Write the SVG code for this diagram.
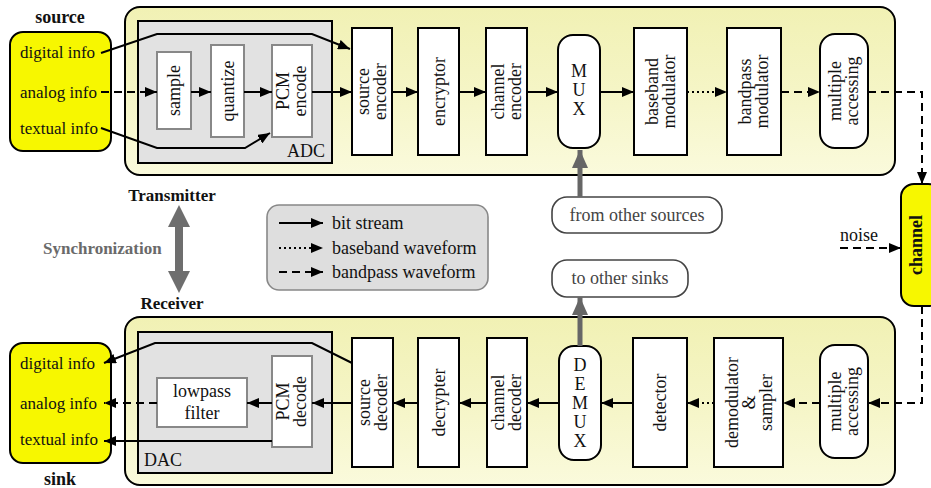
<svg xmlns="http://www.w3.org/2000/svg" width="931" height="488" viewBox="0 0 931 488">
<defs>
<linearGradient id="pan" x1="0" y1="0" x2="0" y2="1">
<stop offset="0" stop-color="#f1f1b4"/>
<stop offset="0.5" stop-color="#f5f5c6"/>
<stop offset="1" stop-color="#fafadc"/>
</linearGradient>
<marker id="ah" viewBox="0 0 12 10" refX="12" refY="5" markerWidth="12" markerHeight="10" markerUnits="userSpaceOnUse" orient="auto">
<path d="M0,0 L12,5 L0,10 z" fill="#000"/>
</marker>
<marker id="gh" viewBox="0 0 18 16" refX="18" refY="8" markerWidth="18" markerHeight="16" markerUnits="userSpaceOnUse" orient="auto">
<path d="M0,0 L18,8 L0,16 z" fill="#666"/>
</marker>
</defs>
<style>
text{font-family:'Liberation Serif','DejaVu Serif',serif}
.t{font-size:18px;fill:#111}
.i{font-size:17px;fill:#111}
.bd{font-size:17px;font-weight:bold;fill:#111}
.g{fill:#444}
.blk{fill:#fff;stroke:#000;stroke-width:2}
.inr{fill:#fff;stroke:#888;stroke-width:2}
.pan{fill:url(#pan);stroke:#000;stroke-width:2}
.ylw{fill:#f7f700;stroke:#000;stroke-width:2}
.gbx{fill:#e2e2e2;stroke:#000;stroke-width:2}
.pill{fill:#fff;stroke:#444;stroke-width:1.6}
.s{fill:none;stroke:#000;stroke-width:2;marker-end:url(#ah)}
.d{fill:none;stroke:#000;stroke-width:2;stroke-dasharray:8 5;marker-end:url(#ah)}
.o{fill:none;stroke:#000;stroke-width:2;stroke-dasharray:2 3;marker-end:url(#ah)}
.gl{fill:none;stroke:#666;stroke-width:5;marker-end:url(#gh)}
</style>
<rect width="931" height="488" fill="#fff"/>
<g font-family="Liberation Serif, DejaVu Serif, serif">
<g id="tx-panel"><rect class="pan" x="125" y="7" width="770" height="168" rx="15"/></g>
<g id="rx-panel"><rect class="pan" x="125" y="317" width="770" height="168" rx="15"/></g>

<g id="adc"><rect class="gbx" x="138" y="21" width="194" height="142"/><text class="t" x="287" y="157">ADC</text></g>
<g id="dac"><rect class="gbx" x="138" y="332" width="194" height="141"/><text class="t" x="144" y="466">DAC</text></g>

<g id="source">
<rect class="ylw" x="10" y="32" width="101" height="119" rx="13"/>
<text class="bd" x="60" y="23" text-anchor="middle" style="font-size:18px">source</text>
<text class="i" x="20" y="58">digital info</text>
<text class="i" x="20" y="98">analog info</text>
<text class="i" x="20" y="134">textual info</text>
</g>
<g id="sink">
<rect class="ylw" x="10" y="343" width="101" height="120" rx="13"/>
<text class="bd" x="60" y="485" text-anchor="middle" style="font-size:18px">sink</text>
<text class="i" x="20" y="369">digital info</text>
<text class="i" x="20" y="409">analog info</text>
<text class="i" x="20" y="445">textual info</text>
</g>

<g id="sample"><rect class="inr" x="157" y="52" width="34" height="77"/><text class="t" transform="translate(174,90.5) rotate(-90)" text-anchor="middle" y="6">sample</text></g>
<g id="quantize"><rect class="inr" x="211" y="45" width="33" height="92"/><text class="t" transform="translate(227.5,91) rotate(-90)" text-anchor="middle" y="6">quantize</text></g>
<g id="pcm-encode"><rect class="inr" x="272" y="45" width="40" height="92"/><text class="t" transform="translate(292,91) rotate(-90)" text-anchor="middle"><tspan x="0" y="-3">PCM</tspan><tspan x="0" y="14">encode</tspan></text></g>

<g id="source-encoder"><rect class="blk" x="352" y="28" width="40" height="127"/><text class="t" transform="translate(372,91.5) rotate(-90)" text-anchor="middle"><tspan x="0" y="-3">source</tspan><tspan x="0" y="14">encoder</tspan></text></g>
<g id="encryptor"><rect class="blk" x="418" y="28" width="41" height="127"/><text class="t" transform="translate(438.5,91.5) rotate(-90)" text-anchor="middle" y="6">encryptor</text></g>
<g id="channel-encoder"><rect class="blk" x="486" y="28" width="41" height="127"/><text class="t" transform="translate(506.5,91.5) rotate(-90)" text-anchor="middle"><tspan x="0" y="-3">channel</tspan><tspan x="0" y="14">encoder</tspan></text></g>
<g id="mux"><rect class="blk" x="558" y="35" width="42" height="113" rx="15"/><text class="t" x="579" text-anchor="middle"><tspan x="579" y="77">M</tspan><tspan x="579" y="96">U</tspan><tspan x="579" y="115">X</tspan></text></g>
<g id="baseband-modulator"><rect class="blk" x="634" y="28" width="53" height="127"/><text class="t" transform="translate(660.5,91.5) rotate(-90)" text-anchor="middle"><tspan x="0" y="-3">baseband</tspan><tspan x="0" y="14">modulator</tspan></text></g>
<g id="bandpass-modulator"><rect class="blk" x="727" y="28" width="54" height="127"/><text class="t" transform="translate(754,91.5) rotate(-90)" text-anchor="middle"><tspan x="0" y="-3">bandpass</tspan><tspan x="0" y="14">modulator</tspan></text></g>
<g id="tx-multiple-accessing"><rect class="blk" x="820" y="34" width="48" height="114" rx="15"/><text class="t" transform="translate(844,91) rotate(-90)" text-anchor="middle"><tspan x="0" y="-3">multiple</tspan><tspan x="0" y="14">accessing</tspan></text></g>

<g id="channel"><rect class="ylw" x="901" y="184" width="40" height="122" rx="13"/><text class="bd" transform="translate(916,245) rotate(-90)" text-anchor="middle" y="6" style="font-size:18px">channel</text></g>
<g id="noise"><text class="t" x="840" y="241">noise</text></g>

<g id="from-other-sources"><rect class="pill" x="552" y="197" width="170" height="36" rx="15"/><text class="t g" x="637" y="221" text-anchor="middle">from other sources</text></g>
<g id="to-other-sinks"><rect class="pill" x="552" y="260" width="136" height="37" rx="15"/><text class="t g" x="620" y="284" text-anchor="middle">to other sinks</text></g>

<g id="legend">
<rect x="267" y="205" width="221" height="85" rx="12" fill="#dedede" stroke="#888" stroke-width="1.6"/>
<text class="t" x="332" y="229">bit stream</text>
<text class="t" x="332" y="254">baseband waveform</text>
<text class="t" x="332" y="278">bandpass waveform</text>
</g>

<g id="sync">
<text class="bd" x="172" y="201" text-anchor="middle">Transmitter</text>
<text class="bd" x="172" y="309" text-anchor="middle">Receiver</text>
<text class="bd" x="43" y="254" style="fill:#6a6a6a">Synchronization</text>
<path d="M179,205 L190,227 L183,227 L183,271 L190,271 L179,293 L168,271 L175,271 L175,227 L168,227 Z" fill="#6e6e6e"/>
</g>

<g id="pcm-decode"><rect class="inr" x="272" y="356" width="40" height="91"/><text class="t" transform="translate(292,401.5) rotate(-90)" text-anchor="middle"><tspan x="0" y="-3">PCM</tspan><tspan x="0" y="14">decode</tspan></text></g>
<g id="lowpass-filter"><rect class="inr" x="157" y="378" width="90" height="49"/><text class="t" x="202" text-anchor="middle"><tspan x="202" y="397">lowpass</tspan><tspan x="202" y="419">filter</tspan></text></g>

<g id="source-decoder"><rect class="blk" x="352" y="338" width="41" height="129"/><text class="t" transform="translate(372.5,402.5) rotate(-90)" text-anchor="middle"><tspan x="0" y="-3">source</tspan><tspan x="0" y="14">decoder</tspan></text></g>
<g id="decrypter"><rect class="blk" x="418" y="338" width="41" height="129"/><text class="t" transform="translate(438.5,402.5) rotate(-90)" text-anchor="middle" y="6">decrypter</text></g>
<g id="channel-decoder"><rect class="blk" x="487" y="338" width="40" height="129"/><text class="t" transform="translate(507,402.5) rotate(-90)" text-anchor="middle"><tspan x="0" y="-3">channel</tspan><tspan x="0" y="14">decoder</tspan></text></g>
<g id="demux"><rect class="blk" x="559" y="346" width="42" height="114" rx="15"/><text class="t" x="580" text-anchor="middle"><tspan x="580" y="371">D</tspan><tspan x="580" y="390">E</tspan><tspan x="580" y="409">M</tspan><tspan x="580" y="428">U</tspan><tspan x="580" y="447">X</tspan></text></g>
<g id="detector"><rect class="blk" x="633" y="338" width="54" height="129"/><text class="t" transform="translate(660,402.5) rotate(-90)" text-anchor="middle" y="6">detector</text></g>
<g id="demodulator-sampler"><rect class="blk" x="714" y="338" width="69" height="129"/><text class="t" transform="translate(748.5,402.5) rotate(-90)" text-anchor="middle"><tspan x="0" y="-11">demodulator</tspan><tspan x="0" y="6">&amp;</tspan><tspan x="0" y="23">sampler</tspan></text></g>
<g id="rx-multiple-accessing"><rect class="blk" x="820" y="345" width="48" height="113" rx="15"/><text class="t" transform="translate(844,401.5) rotate(-90)" text-anchor="middle"><tspan x="0" y="-3">multiple</tspan><tspan x="0" y="14">accessing</tspan></text></g>
</g>
<g id="connectors">
<path class="s" d="M101,53 L157,34 L312,34 L350,49"/>
<path class="d" d="M101,92 L157,92"/>
<path class="s" d="M101,128 L157,148 L245,148 L270,133"/>
<path class="s" d="M191,92 L211,92"/>
<path class="s" d="M244,92 L272,92"/>
<path class="s" d="M312,92 L352,92"/>
<path class="s" d="M392,92 L418,92"/>
<path class="s" d="M459,92 L486,92"/>
<path class="s" d="M527,92 L558,92"/>
<path class="s" d="M600,92 L634,92"/>
<path class="o" d="M687,92 L727,92"/>
<path class="d" d="M781,92 L820,92"/>
<path class="d" d="M868,92 L922,92 L922,184"/>
<path class="d" d="M840,248 L901,248"/>
<path class="d" d="M922,306 L922,403 L868,403"/>
<path class="d" d="M820,403 L783,403"/>
<path class="o" d="M714,403 L687,403"/>
<path class="s" d="M633,403 L601,403"/>
<path class="s" d="M559,403 L527,403"/>
<path class="s" d="M487,403 L459,403"/>
<path class="s" d="M418,403 L393,403"/>
<path class="s" d="M352,403 L312,403"/>
<path class="s" d="M272,403 L247,403"/>
<path class="d" d="M157,403 L104,403"/>
<path class="s" d="M272,441 L104,441"/>
<path class="s" d="M352,363 L312,343 L155,343 L104,363"/>
<path class="gl" d="M580,197 L580,150"/>
<path class="gl" d="M580,346 L580,297"/>
<path class="s" d="M279,223 L323,223"/>
<path class="o" d="M279,248 L323,248"/>
<path class="d" d="M279,272 L323,272"/>
</g>
</svg>
